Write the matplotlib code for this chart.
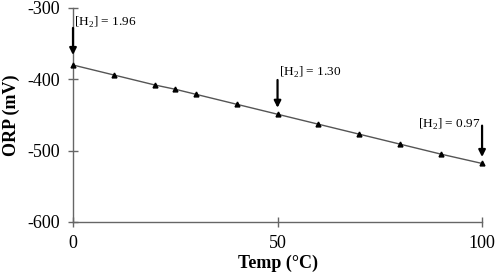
import matplotlib
matplotlib.use("Agg")
import matplotlib.pyplot as plt

temp = [0, 10, 20, 25, 30, 40, 50, 60, 70, 80, 90, 100]
orp = [-380, -394, -408, -414, -421, -435, -449, -463, -477, -491, -505, -518]
ann_x = [0, 50, 100]
ann_labels = ["[H$_2$] = 1.96", "[H$_2$] = 1.30", "[H$_2$] = 0.97"]

plt.rcParams['font.family'] = ['Liberation Serif', 'DejaVu Serif']
plt.rcParams['mathtext.fontset'] = 'custom'
plt.rcParams['mathtext.rm'] = 'Liberation Serif'
plt.rcParams['axes.unicode_minus'] = False

fig = plt.figure(figsize=(4.98, 2.74), dpi=100)
ax = fig.add_axes([0.1466, 0.19, 0.8214, 0.781])
ax.plot(temp, orp, color='#555555', lw=1.0, marker='^', ms=3.5, mfc='black', mec='black', zorder=3, clip_on=False)
ax.set_xlim(0, 100)
ax.set_ylim(-600, -300)
ax.set_xticks([0, 50, 100])
ax.set_yticks([-600, -500, -400, -300])
for s in ['top', 'right']:
    ax.spines[s].set_visible(False)
for s in ['left', 'bottom']:
    ax.spines[s].set_color('#666666')
    ax.spines[s].set_linewidth(1.0)
ax.tick_params(direction='inout', length=7, width=1.0, color='#666666', labelsize=13)
ax.tick_params(axis='x', pad=6)
ax.tick_params(axis='y', pad=6)
ax.set_xlabel('Temp (°C)', fontsize=13, fontweight='bold', labelpad=2)
ax.set_ylabel('ORP (mV)', fontsize=13, fontweight='bold', labelpad=5)

# annotations
arrow_kw = dict(arrowstyle='-|>', color='black', lw=1.6, mutation_scale=10, shrinkA=0, shrinkB=0)
ax.annotate('', xy=(ann_x[0], -366), xytext=(ann_x[0], -328), arrowprops=arrow_kw)
ax.text(ann_x[0] + 0.3, -320, ann_labels[0], fontsize=9.5, ha='left', va='center')
ax.annotate('', xy=(ann_x[1], -440), xytext=(ann_x[1], -401), arrowprops=arrow_kw)
ax.text(ann_x[1] + 0.4, -391, ann_labels[1], fontsize=9.5, ha='left', va='center')
ax.annotate('', xy=(ann_x[2], -509), xytext=(ann_x[2], -465), arrowprops=arrow_kw)
ax.text(ann_x[2] - 0.5, -463, ann_labels[2], fontsize=9.5, ha='right', va='center')

fig.savefig('out.png', dpi=100)
